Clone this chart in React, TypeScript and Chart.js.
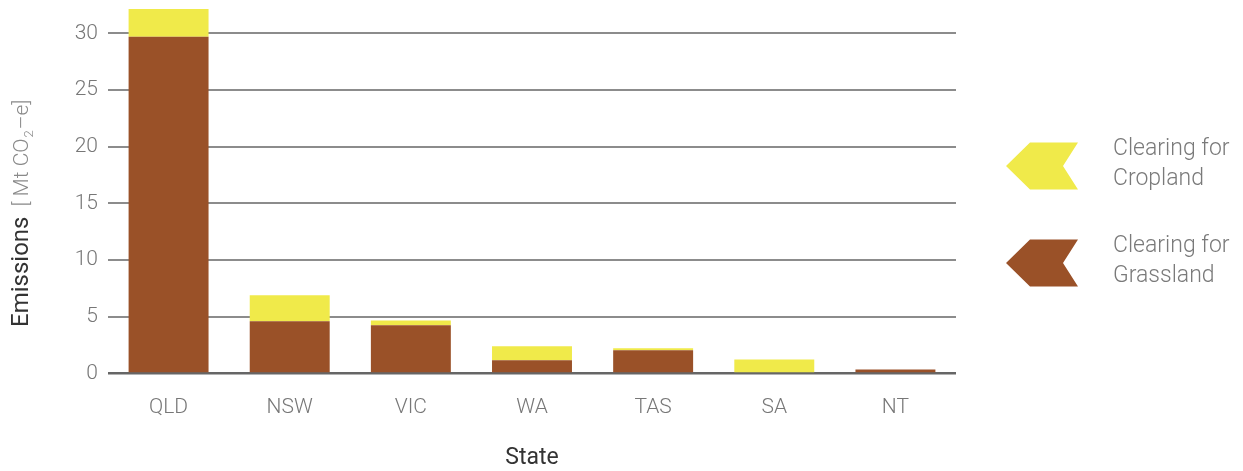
import React, { useEffect, useRef } from "react";
import { Chart, registerables } from "chart.js";

Chart.register(...registerables);

// Land clearing emissions by state, Mt CO2-e
const states = ["QLD", "NSW", "VIC", "WA", "TAS", "SA", "NT"];
const grassland = [29.7, 4.6, 4.25, 1.17, 2.06, 0.12, 0.35];
const cropland = [2.45, 2.3, 0.43, 1.24, 0.17, 1.12, 0.0];

const seriesNames = ["Clearing for Grassland", "Clearing for Cropland"];
const seriesColors = ["#9A5128", "#F0EA4A"];
const yTicks = [0, 5, 10, 15, 20, 25, 30];

const FONT = "Roboto";

// Rotated y-axis title: label followed by a lighter unit with a subscript
const yTitlePlugin = {
  id: "yTitle",
  afterDraw(chart: Chart) {
    const ctx = chart.ctx;
    ctx.save();
    ctx.translate(28, 327);
    ctx.rotate(-Math.PI / 2);
    ctx.textAlign = "left";
    ctx.textBaseline = "alphabetic";
    ctx.fillStyle = "#333333";
    ctx.font = `400 24px ${FONT}`;
    ctx.fillText("Emissions", 0, 0);
    let x = ctx.measureText("Emissions").width + 10;
    ctx.fillStyle = "#8a8a8a";
    ctx.font = `300 21px ${FONT}`;
    const a = "[ Mt CO";
    ctx.fillText(a, x, 0);
    x += ctx.measureText(a).width + 1;
    ctx.font = `300 13px ${FONT}`;
    ctx.fillText("2", x, 5);
    x += ctx.measureText("2").width + 1;
    ctx.font = `300 21px ${FONT}`;
    ctx.fillText("–e]", x, 0);
    ctx.restore();
  },
};

// Chevron legend on the right, cropland first
const legendPlugin = {
  id: "chevronLegend",
  afterDraw(chart: Chart) {
    const ctx = chart.ctx;
    const order = [1, 0];
    order.forEach((di, row) => {
      const ds = chart.data.datasets[di];
      const cy = 166 + row * 97;
      const left = 1006;
      ctx.save();
      ctx.fillStyle = ds.backgroundColor as string;
      ctx.beginPath();
      ctx.moveTo(left, cy);
      ctx.lineTo(left + 24, cy - 23.5);
      ctx.lineTo(left + 72, cy - 23.5);
      ctx.lineTo(left + 57, cy);
      ctx.lineTo(left + 72, cy + 23.5);
      ctx.lineTo(left + 24, cy + 23.5);
      ctx.closePath();
      ctx.fill();
      const label = String(ds.label);
      const idx = label.indexOf(" for ") + 4;
      const lines = [label.slice(0, idx), label.slice(idx + 1)];
      ctx.fillStyle = "#7a7a7a";
      ctx.font = `300 23px ${FONT}`;
      ctx.textAlign = "left";
      ctx.textBaseline = "alphabetic";
      ctx.fillText(lines[0], 1113, cy - 11);
      ctx.fillText(lines[1], 1113, cy + 19);
      ctx.restore();
    });
  },
};

export default function App() {
  const canvasRef = useRef<HTMLCanvasElement | null>(null);

  useEffect(() => {
    if (!canvasRef.current) return;
    Chart.defaults.font.family = FONT;
    const chart = new Chart(canvasRef.current, {
      type: "bar",
      data: {
        labels: states,
        datasets: [
          {
            label: seriesNames[0],
            data: grassland,
            backgroundColor: seriesColors[0],
            borderWidth: 0,
          },
          {
            label: seriesNames[1],
            data: cropland,
            backgroundColor: seriesColors[1],
            borderWidth: 0,
          },
        ],
      },
      options: {
        animation: false,
        responsive: true,
        maintainAspectRatio: false,
        layout: { padding: { top: 5, right: 287, left: 0, bottom: 0 } },
        datasets: { bar: { categoryPercentage: 1, barPercentage: 0.66 } },
        plugins: {
          legend: { display: false },
          tooltip: { enabled: false },
        },
        scales: {
          x: {
            stacked: true,
            grid: { display: false, drawTicks: false },
            border: { display: false },
            ticks: {
              color: "#777777",
              font: { size: 21, weight: "300" as any },
              padding: 22,
            },
            title: {
              display: true,
              text: "State",
              color: "#333333",
              font: { size: 23, weight: "400" as any, lineHeight: 1 },
              padding: { top: 0, bottom: 1 },
            },
            afterFit(scale: any) {
              scale.height = 97.5;
              scale.paddingLeft = 0;
              scale.paddingRight = 0;
            },
          },
          y: {
            stacked: true,
            min: 0,
            max: 32.5,
            border: { display: false },
            grid: {
              drawTicks: false,
              lineWidth: (c: any) => (c.tick && c.tick.value === 0 ? 2.5 : 2),
              color: (c: any) =>
                c.tick && c.tick.value === 0 ? "#666666" : "#8c8c8c",
            },
            ticks: {
              color: "#777777",
              font: { size: 21, weight: "300" as any },
              padding: 10,
            },
            afterBuildTicks(scale: any) {
              scale.ticks = yTicks.map((v) => ({ value: v }));
            },
            afterFit(scale: any) {
              scale.width = 108;
              scale.paddingTop = 0;
              scale.paddingBottom = 0;
            },
          },
        },
      },
      plugins: [yTitlePlugin, legendPlugin],
    });
    return () => chart.destroy();
  }, []);

  return (
    <div
      style={{
        position: "absolute",
        left: 0,
        top: 0,
        width: "1243px",
        height: "471px",
        background: "#ffffff",
      }}
    >
      <canvas ref={canvasRef} />
    </div>
  );
}
